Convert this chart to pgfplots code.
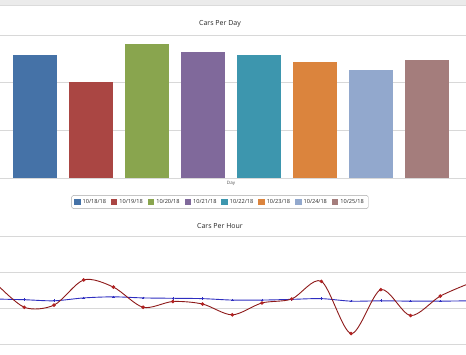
\documentclass[border=0pt]{standalone}
\usepackage{pgfplots}
\pgfplotsset{compat=1.18}
\usepackage{fontspec}
\setmainfont{Open Sans}
\definecolor{c1}{HTML}{4572A7}
\definecolor{c2}{HTML}{AA4643}
\definecolor{c3}{HTML}{89A54E}
\definecolor{c4}{HTML}{80699B}
\definecolor{c5}{HTML}{3D96AE}
\definecolor{c6}{HTML}{DB843D}
\definecolor{c7}{HTML}{92A8CD}
\definecolor{c8}{HTML}{A47D7C}
\definecolor{gridc}{HTML}{D8D8D8}
\definecolor{redline}{HTML}{8E1A1A}
\definecolor{redmark}{HTML}{B22222}
\definecolor{blueline}{HTML}{2E2EC0}
\begin{document}
\begin{tikzpicture}[x=1pt,y=1pt]
\useasboundingbox (0,0) rectangle (466,355);
% top band
\fill[black!8] (0,355) rectangle (466,350);
\draw[black!14, line width=0.8pt] (0,349.3) -- (466,349.3);
% titles
\node[font=\fontsize{7}{8}\selectfont, text=black!85] at (220,331) {Cars Per Day};
\node[font=\fontsize{7}{8}\selectfont, text=black!85] at (220,129) {Cars Per Hour};
\node[font=\fontsize{4.5}{5}\selectfont, text=black!70] at (231,172) {Day};

\begin{axis}[
  at={(0pt,177pt)}, anchor=south west, scale only axis,
  width=466pt, height=143pt,
  xmin=-0.625, xmax=7.696, ymin=0, ymax=300,
  ytick={0,100,200,300}, yticklabels={}, xtick=\empty,
  ymajorgrids, grid style={gridc, line width=0.6pt},
  axis line style={draw=none}, major tick length=0pt,
  ybar, bar width=44pt, bar shift=0pt,
  legend columns=8,
  legend style={at={(0.472,-0.168)}, anchor=center,
    font=\fontsize{5.6}{6.5}\selectfont, text=black!85,
    draw=black!35, rounded corners=1.5pt, inner xsep=2.5pt, inner ysep=1.8pt,
    /tikz/every even column/.append style={column sep=3pt}},
  legend image code/.code={\fill[#1, sharp corners] (0pt,-3pt) rectangle (6.5pt,3pt);},
]
\addplot[fill=c1, draw=none] coordinates {(0,258)}; \addlegendentry{10/18/18}
\addplot[fill=c2, draw=none] coordinates {(1,201)}; \addlegendentry{10/19/18}
\addplot[fill=c3, draw=none] coordinates {(2,281)}; \addlegendentry{10/20/18}
\addplot[fill=c4, draw=none] coordinates {(3,264)}; \addlegendentry{10/21/18}
\addplot[fill=c5, draw=none] coordinates {(4,258)}; \addlegendentry{10/22/18}
\addplot[fill=c6, draw=none] coordinates {(5,243)}; \addlegendentry{10/23/18}
\addplot[fill=c7, draw=none] coordinates {(6,226)}; \addlegendentry{10/24/18}
\addplot[fill=c8, draw=none] coordinates {(7,247)}; \addlegendentry{10/25/18}
\end{axis}

\begin{axis}[
  at={(0pt,11pt)}, anchor=south west, scale only axis,
  width=466pt, height=108pt,
  xmin=-0.818, xmax=14.867, ymin=0, ymax=30,
  ytick={0,10,20,30}, yticklabels={}, xtick=\empty,
  ymajorgrids, grid style={gridc, line width=0.6pt},
  axis line style={draw=none}, major tick length=0pt,
]
\addplot[blueline, line width=0.9pt, smooth, mark=+, mark size=1.3pt,
  mark options={line width=0.6pt}] coordinates {
(-1,12.5) (0,12.3) (1,12.0) (2,12.8) (3,13.1) (4,12.8) (5,12.7) (6,12.6)
(7,12.2) (8,12.2) (9,12.4) (10,12.6) (11,11.9) (12,12.0) (13,11.9) (14,11.9) (15,12.0)};
\addplot[redline, line width=0.9pt, smooth, mark=*, mark size=1.3pt,
  mark options={fill=redmark, draw=redmark}] coordinates {
(-1,17.2) (0,10.2) (1,10.8) (2,17.8) (3,15.8) (4,10.2) (5,11.8) (6,11.1)
(7,8.1) (8,11.4) (9,12.5) (10,17.4) (11,2.9) (12,15.1) (13,7.9) (14,13.3) (15,16.9)};
\end{axis}
\end{tikzpicture}
\end{document}
